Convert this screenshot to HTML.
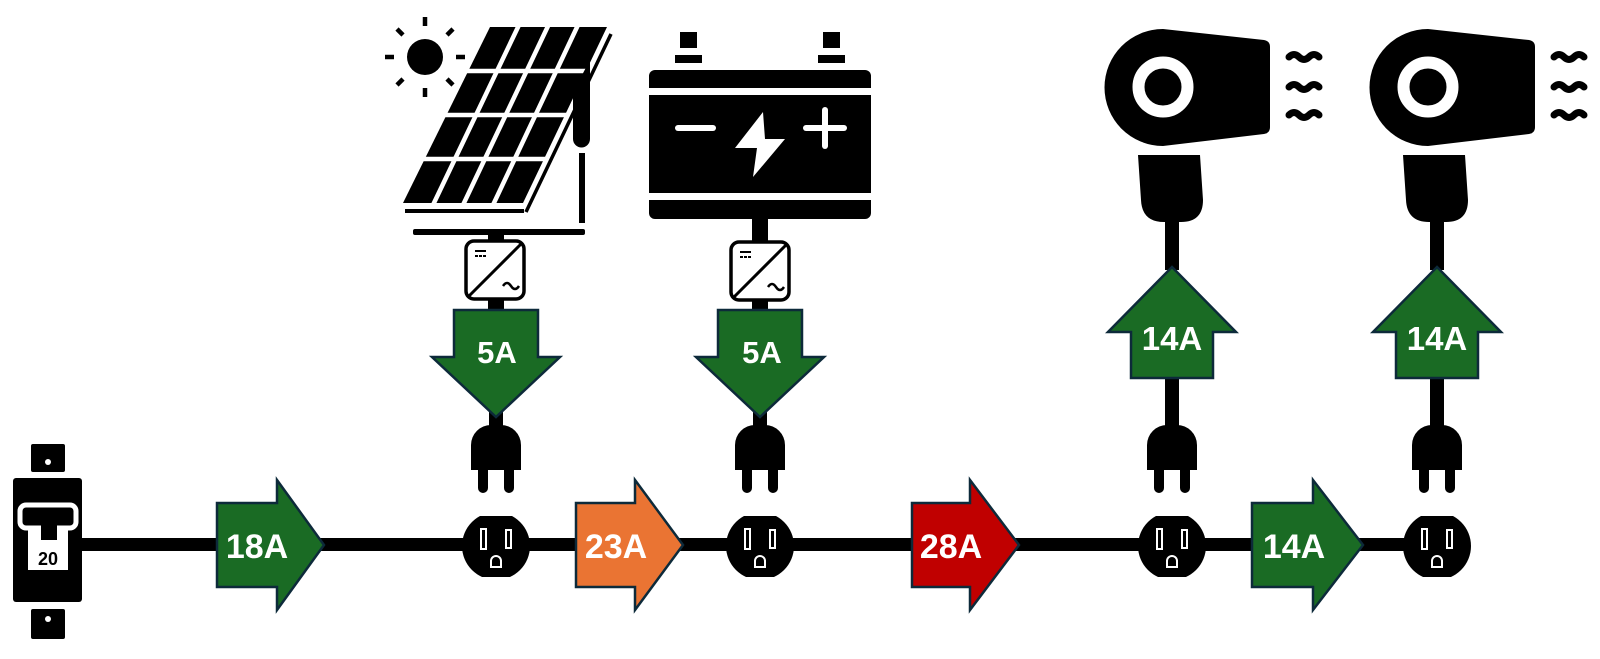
<!DOCTYPE html>
<html><head><meta charset="utf-8"><style>
html,body{margin:0;padding:0;background:#fff;width:1600px;height:659px;overflow:hidden}
svg text{font-family:"Liberation Sans",sans-serif;font-weight:bold;fill:#fff;text-anchor:middle}
</style></head><body>
<svg width="1600" height="659" viewBox="0 0 1600 659" xmlns="http://www.w3.org/2000/svg">
<defs>
<clipPath id="oc"><rect x="-40" y="-30" width="80" height="61"/></clipPath>
<g id="outlet">
  <circle r="34" fill="#000" clip-path="url(#oc)"/>
  <rect x="-15" y="-17" width="5" height="20" fill="#000" stroke="#fff" stroke-width="2"/>
  <rect x="10" y="-16" width="5" height="18" fill="#000" stroke="#fff" stroke-width="2"/>
  <path d="M-5,21 L-5,15 A5,5 0 0 1 5,15 L5,21 Z" fill="#000" stroke="#fff" stroke-width="2"/>
</g>
<g id="plug">
  <path d="M-25,470 L-25,445 A20,20 0 0 1 -5,425 L5,425 A20,20 0 0 1 25,445 L25,470 Z" fill="#000"/>
  <path d="M-18,468 L-8,468 L-8,488 A5,5 0 0 1 -18,488 Z M8,468 L18,468 L18,488 A5,5 0 0 1 8,488 Z" fill="#000"/>
</g>
<g id="inv">
  <rect x="0" y="0" width="58" height="58" rx="8" fill="#fff" stroke="#000" stroke-width="3.5"/>
  <line x1="55" y1="3" x2="3" y2="55" stroke="#000" stroke-width="3"/>
  <line x1="9" y1="10" x2="20" y2="10" stroke="#000" stroke-width="2"/>
  <line x1="9" y1="15" x2="20" y2="15" stroke="#000" stroke-width="2" stroke-dasharray="3,1"/>
  <path d="M37,45 q4,-6 8,0 t8,0" fill="none" stroke="#000" stroke-width="2.5"/>
</g>
<g id="dryer">
  <path d="M1163,29 L1264,40 Q1270,41 1270,47 L1270,127 Q1270,133 1264,134 L1163,146 A58.5,58.5 0 0 1 1163,29 Z" fill="#000"/>
  <circle cx="1163" cy="87" r="24.5" fill="none" stroke="#fff" stroke-width="12"/>
  <path d="M1138,155 L1200,155 L1203,200 Q1203,222 1181,222 L1164,222 Q1142,222 1141,200 Z" fill="#000"/>
  <g fill="none" stroke="#000" stroke-width="7" stroke-linecap="round">
    <path d="M1289,57 q5,-5 10,0 t10,0 t10,0"/>
    <path d="M1289,87 q5,-5 10,0 t10,0 t10,0"/>
    <path d="M1289,115 q5,-5 10,0 t10,0 t10,0"/>
  </g>
  <rect x="1165" y="215" width="14" height="55" fill="#000"/>
  <rect x="1165" y="375" width="14" height="52" fill="#000"/>
</g>
</defs>

<!-- main line -->
<rect x="80" y="538" width="1362" height="13" fill="#000"/>

<!-- breaker -->
<rect x="31" y="444" width="34" height="28" rx="2" fill="#000"/>
<circle cx="48" cy="462" r="3" fill="#fff"/>
<rect x="31" y="609" width="34" height="30" rx="2" fill="#000"/>
<circle cx="48" cy="619" r="3" fill="#fff"/>
<rect x="13" y="478" width="69" height="124" rx="3" fill="#000"/>
<rect x="20" y="505" width="56" height="23" rx="6" fill="#000" stroke="#fff" stroke-width="5"/>
<rect x="28" y="530" width="40" height="40" fill="#fff"/>
<rect x="41" y="520" width="16" height="20" fill="#000"/>
<text x="48" y="565" style="font-size:18px;fill:#000">20</text>

<!-- outlets & plugs -->
<use href="#outlet" transform="translate(496,546)"/>
<use href="#outlet" transform="translate(760,546)"/>
<use href="#outlet" transform="translate(1172,546)"/>
<use href="#outlet" transform="translate(1437,546)"/>
<use href="#plug" transform="translate(496,0)"/>
<use href="#plug" transform="translate(760,0)"/>
<use href="#plug" transform="translate(1172,0)"/>
<use href="#plug" transform="translate(1437,0)"/>

<!-- horizontal arrows -->
<g stroke="#0d2a3a" stroke-width="2.5" stroke-linejoin="miter">
<polygon points="217,503 277,503 277,480 324,545 277,610 277,587 217,587" fill="#1a6b24"/>
<polygon points="576,503 635,503 635,480 683,545 635,610 635,587 576,587" fill="#ea7433"/>
<polygon points="912,503 970,503 970,480 1019,545 970,610 970,587 912,587" fill="#c00000"/>
<polygon points="1252,503 1313,503 1313,480 1363,545 1313,610 1313,587 1252,587" fill="#1a6b24"/>
</g>
<text x="257" y="558" style="font-size:34px">18A</text>
<text x="616" y="558" style="font-size:34px">23A</text>
<text x="951" y="558" style="font-size:34px">28A</text>
<text x="1294" y="558" style="font-size:34px">14A</text>

<!-- solar -->
<circle cx="425" cy="57" r="18" fill="#000"/>
<g stroke="#000" stroke-width="4.5">
<line x1="425" y1="17" x2="425" y2="26"/><line x1="425" y1="88" x2="425" y2="97"/>
<line x1="385" y1="57" x2="394" y2="57"/><line x1="456" y1="57" x2="465" y2="57"/>
<line x1="397" y1="29" x2="403" y2="35"/><line x1="447" y1="79" x2="453" y2="85"/>
<line x1="397" y1="85" x2="403" y2="79"/><line x1="447" y1="35" x2="453" y2="29"/>
</g>
<polygon points="490,27 607,27 523,203 403,203" fill="#000"/>
<g stroke="#fff" stroke-width="4.5">
<line x1="519" y1="25" x2="433" y2="205"/>
<line x1="548.5" y1="25" x2="463" y2="205"/>
<line x1="578" y1="25" x2="493" y2="205"/>
<line x1="466" y1="71" x2="588" y2="71"/>
<line x1="444" y1="115" x2="567" y2="115"/>
<line x1="422" y1="159" x2="546" y2="159"/>
</g>
<line x1="611" y1="34" x2="526" y2="212" stroke="#000" stroke-width="3.5"/>
<line x1="405" y1="211" x2="524" y2="211" stroke="#000" stroke-width="4"/>
<path d="M573,92 L590,60 L590,139 A8.5,8.5 0 0 1 573,139 Z" fill="#000"/>
<rect x="579" y="153" width="6" height="70" fill="#000"/>
<rect x="413" y="229" width="172" height="6" rx="2" fill="#000"/>
<rect x="488" y="233" width="16" height="10" fill="#000"/>
<use href="#inv" transform="translate(466,241)"/>
<rect x="488" y="298" width="16" height="14" fill="#000"/>
<rect x="489" y="412" width="14" height="15" fill="#000"/>

<!-- battery -->
<rect x="680" y="32" width="17" height="16" fill="#000"/>
<rect x="675" y="55" width="27" height="8" fill="#000"/>
<rect x="823" y="32" width="17" height="16" fill="#000"/>
<rect x="818" y="55" width="27" height="8" fill="#000"/>
<rect x="649" y="70" width="222" height="149" rx="6" fill="#000"/>
<rect x="649" y="88" width="222" height="7" fill="#fff"/>
<rect x="649" y="193" width="222" height="7" fill="#fff"/>
<line x1="678" y1="128" x2="713" y2="128" stroke="#fff" stroke-width="6" stroke-linecap="round"/>
<line x1="806" y1="128" x2="844" y2="128" stroke="#fff" stroke-width="6" stroke-linecap="round"/>
<line x1="825" y1="110" x2="825" y2="146" stroke="#fff" stroke-width="6" stroke-linecap="round"/>
<polygon points="763,112 735,148 757,148 753,177 785,139 765,139" fill="#fff"/>
<rect x="752" y="217" width="16" height="26" fill="#000"/>
<use href="#inv" transform="translate(731,242)"/>
<rect x="752" y="299" width="16" height="13" fill="#000"/>
<rect x="753" y="412" width="14" height="15" fill="#000"/>

<!-- down arrows -->
<g stroke="#0d2a3a" stroke-width="2.5">
<polygon points="454,310 538,310 538,357 560,357 496,417 432,357 454,357" fill="#1a6b24"/>
<polygon points="718,310 802,310 802,357 824,357 760,417 696,357 718,357" fill="#1a6b24"/>
</g>
<text x="497" y="363" style="font-size:31px">5A</text>
<text x="762" y="363" style="font-size:31px">5A</text>

<!-- dryers -->
<use href="#dryer"/>
<use href="#dryer" transform="translate(265,0)"/>
<g stroke="#0d2a3a" stroke-width="2.5">
<polygon points="1172,267 1236,332 1213,332 1213,378 1131,378 1131,332 1108,332" fill="#1a6b24"/>
<polygon points="1437,267 1501,332 1478,332 1478,378 1396,378 1396,332 1373,332" fill="#1a6b24"/>
</g>
<text x="1172" y="350" style="font-size:33px">14A</text>
<text x="1437" y="350" style="font-size:33px">14A</text>
</svg>
</body></html>
